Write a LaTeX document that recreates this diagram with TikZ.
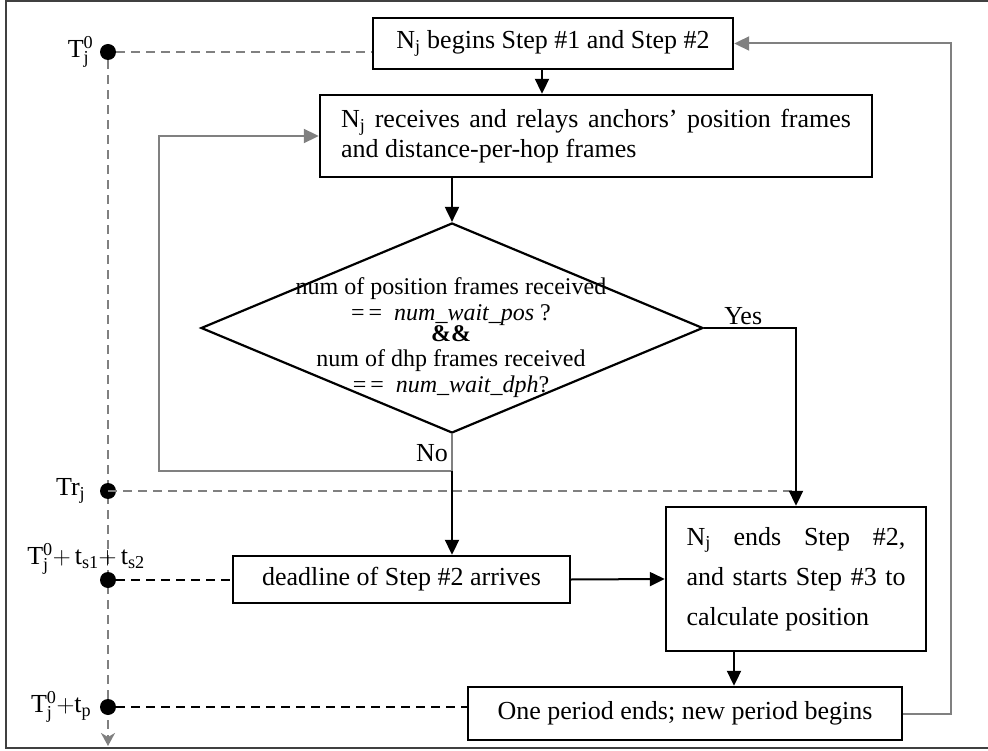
\documentclass[tikz,border=0pt]{standalone}
\usepackage{fontspec}
\setmainfont{Liberation Serif}
\usetikzlibrary{shapes.geometric,arrows.meta,positioning}

\begin{document}
\begin{tikzpicture}[x=1pt,y=-1pt,
    every node/.style={font=\fontsize{26}{30}\selectfont},
    box/.style={draw,line width=2.4pt,inner sep=0pt},
    decision/.style={diamond,draw,line width=2.2pt,inner sep=0pt,
      minimum width=502pt,minimum height=210pt},
    flow/.style={line width=2pt,-{Triangle[length=15pt,width=14pt]}},
    back/.style={gray,line width=2pt},
    backarrow/.style={back,-{Triangle[length=15pt,width=14pt]}},
    tick/.style={line width=1.8pt,dash pattern=on 9pt off 6pt},
    dot/.style={circle,fill,inner sep=0pt,minimum size=16pt}]
  \useasboundingbox (0,0) rectangle (988,751);
  % frame
  \draw[line width=2pt,black!75] (988,1) -- (6,1) -- (6,748) -- (988,748);

  % boxes
  \node[box,minimum width=360pt,minimum height=51pt] (begin) at (553,43.5)
    {N\textsubscript{j} begins Step \#1 and Step \#2};
  \node[box,minimum width=552pt,minimum height=82pt,text width=510pt,align=justify] (recv) at (596,136)
    {N\textsubscript{j} receives and relays anchors’ position frames\linebreak and distance-per-hop frames};
  \node[decision] (check) at (452,328) {};
  \node[font=\fontsize{24}{26}\selectfont,align=center] (cond) at (451,338)
    {num of position frames received\\
     =\,= \ \textit{num\_wait\_pos} ?\\[-5pt]
     \textbf{\&\&}\\[-1pt]
     num of dhp frames received\\
     =\,= \ \textit{num\_wait\_dph}?};
  \node[box,minimum width=337pt,minimum height=47pt] (deadline) at (401.5,579.5)
    {deadline of Step \#2 arrives};
  \node[box,minimum width=260pt,minimum height=144pt,text width=219pt,align=justify,
    font=\fontsize{26}{40}\selectfont] (ends) at (796,579)
    {N\textsubscript{j} ends Step \#2,\linebreak and starts Step \#3 to\linebreak calculate position};
  \node[box,minimum width=434pt,minimum height=53pt] (period) at (685,713.5)
    {One period ends; new period begins};

  \node[anchor=south west,inner sep=0pt] (yes) at ([xshift=20pt,yshift=3pt]check.east) {Yes};
  \node[anchor=east,inner sep=0pt] (no) at ([xshift=-4pt,yshift=-19pt]check.south) {No};

  % time axis
  \node[dot] (t0) at (108,52) {};
  \coordinate (tend) at (108,746);
  \draw[tick,gray,-{Stealth[length=13pt,width=14pt,inset=4pt]}] (t0) -- (tend);
  \node[dot] (tr) at (108,491) {};
  \node[dot] (td) at (108,580) {};
  \node[dot] (tp) at (108,707) {};
  \node[left=3pt of t0] (t0lbl) {$\mathrm{T}^{\mathrm{0}}_{\mathrm{j}}$};
  \node[left=11pt of tr] (trlbl) {Tr\textsubscript{j}};
  \node (tdlbl) at (86,559) {$\mathrm{T}^{\mathrm{0}}_{\mathrm{j}}\mathrm{{+}\,t_{s1}{+}\,t_{s2}}$};
  \node[left=5pt of tp] (tplbl) {$\mathrm{T}^{\mathrm{0}}_{\mathrm{j}}\mathrm{{+}t_p}$};

  \draw[tick,gray] (t0) -- (t0 -| begin.west);
  \draw[tick,gray] (tr.center) -- (tr -| ends.north);
  \draw[tick] (td) -- (td -| deadline.west);
  \draw[tick] (tp) -- (tp -| period.west);

  % flow
  \draw[flow] ([xshift=-11pt]begin.south) -- ([xshift=-11pt]begin.south |- recv.north);
  \draw[flow] (recv.south -| check.north) -- (check.north);
  \draw[flow] (check.east) -| (ends.north);
  \coordinate (split) at ([yshift=-37pt]check.south);
  \draw[backarrow] (check.south) -- (split) -| ([xshift=-160pt]recv.west) -- (recv.west);
  \draw[flow] (split) -- (split |- deadline.north);
  \draw[flow] (deadline.east) -- (ends.west);
  \draw[flow] ([xshift=-62pt]ends.south) -- ([xshift=-62pt]ends.south |- period.north);
  \draw[backarrow] (period.east) -- ++(48,0) |- (begin.east);
\end{tikzpicture}
\end{document}
